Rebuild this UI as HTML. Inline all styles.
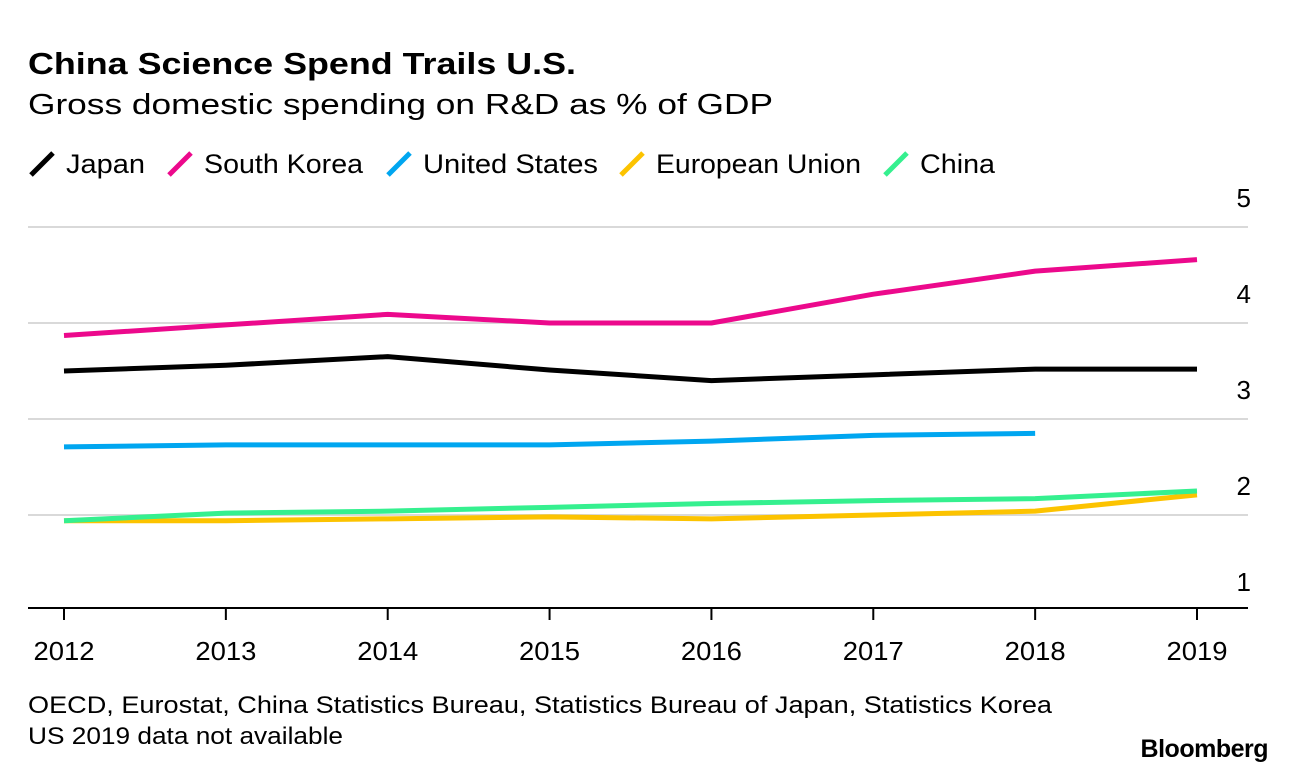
<!DOCTYPE html>
<html><head><meta charset="utf-8"><style>
body{margin:0;background:#fff;font-family:"Liberation Sans",sans-serif;}
svg text{font-family:"Liberation Sans",sans-serif;}
</style></head><body>
<svg id="chart" width="1296" height="774" xmlns="http://www.w3.org/2000/svg">
<text x="28" y="74" font-size="31" font-weight="bold" fill="#000" textLength="548" lengthAdjust="spacingAndGlyphs">China Science Spend Trails U.S.</text>
<text x="28" y="114" font-size="29" fill="#000" textLength="745" lengthAdjust="spacingAndGlyphs">Gross domestic spending on R&amp;D as % of GDP</text>
<g id="legend"></g>
<g id="grid"></g>
<g id="series"></g>
<g id="xaxis"></g>
<text x="28" y="713" font-size="24" fill="#000" textLength="1024" lengthAdjust="spacingAndGlyphs">OECD, Eurostat, China Statistics Bureau, Statistics Bureau of Japan, Statistics Korea</text>
<text x="28" y="744" font-size="24" fill="#000" textLength="315" lengthAdjust="spacingAndGlyphs">US 2019 data not available</text>
<text x="1268" y="757" font-size="25" font-weight="bold" text-anchor="end" fill="#000" letter-spacing="-0.5">Bloomberg</text>
</svg>
<script>
const years=[2012,2013,2014,2015,2016,2017,2018,2019];
const yTicks=[1,2,3,4,5];
const japan=[3.50,3.56,3.65,3.51,3.40,3.46,3.52,3.52];
const southKorea=[3.87,3.98,4.09,4.00,4.00,4.30,4.54,4.66];
const unitedStates=[2.71,2.73,2.73,2.73,2.77,2.83,2.85];
const europeanUnion=[1.94,1.94,1.96,1.98,1.96,2.00,2.04,2.21];
const china=[1.94,2.02,2.04,2.08,2.12,2.15,2.17,2.25];
const seriesNames=["Japan","South Korea","United States","European Union","China"];
const seriesColors=["#000000","#ec098c","#00a6f0","#fcc300","#35f08f"];
const seriesData=[japan,southKorea,unitedStates,europeanUnion,china];
const NS="http://www.w3.org/2000/svg";
const x=i=>64+i*(1197-64)/(years.length-1);
const y=v=>611-96*(v-1);
function mk(t,a,p){const e=document.createElementNS(NS,t);for(const k in a)e.setAttribute(k,a[k]);p.appendChild(e);return e;}
const grid=document.getElementById('grid');
yTicks.forEach(v=>{
 if(v>1){const l=mk('line',{x1:28,x2:1248,y1:y(v),y2:y(v),stroke:'#d9d9d9','stroke-width':2},grid);
 
 }
 const t=mk('text',{x:1251,y:y(v)-20,'font-size':26,'text-anchor':'end',fill:'#000'},grid);t.textContent=v;
 
 
});
const xa=document.getElementById('xaxis');
const al=mk('line',{x1:28,x2:1248,y1:608,y2:608,stroke:'#000','stroke-width':2},xa);


years.forEach((yr,i)=>{
 const tk=mk('line',{x1:x(i),x2:x(i),y1:608,y2:620,stroke:'#000','stroke-width':2},xa);
 
 
 const t=mk('text',{x:x(i),y:660,'font-size':26,'text-anchor':'middle',fill:'#000',textLength:61,lengthAdjust:'spacingAndGlyphs'},xa);t.textContent=yr;
 
 
});
const sg=document.getElementById('series');
seriesData.forEach((d,s)=>{
 const p=mk('polyline',{points:d.map((v,i)=>x(i)+','+y(v)).join(' '),fill:'none',stroke:seriesColors[s],'stroke-width':5,'stroke-linejoin':'round'},sg);
 
 
});
const lg=document.getElementById('legend');
const lx=[28,166,385,618,882];
const lw=[79,159,175,205,75];
seriesNames.forEach((n,s)=>{
 const g=mk('g',{},lg);
 
 
 mk('line',{x1:lx[s]+3,y1:175,x2:lx[s]+25,y2:153,stroke:seriesColors[s],'stroke-width':5},g);
 const t=mk('text',{x:lx[s]+38,y:173,'font-size':27,fill:'#000',textLength:lw[s],lengthAdjust:'spacingAndGlyphs'},g);t.textContent=n;
});
</script>
</body></html>
